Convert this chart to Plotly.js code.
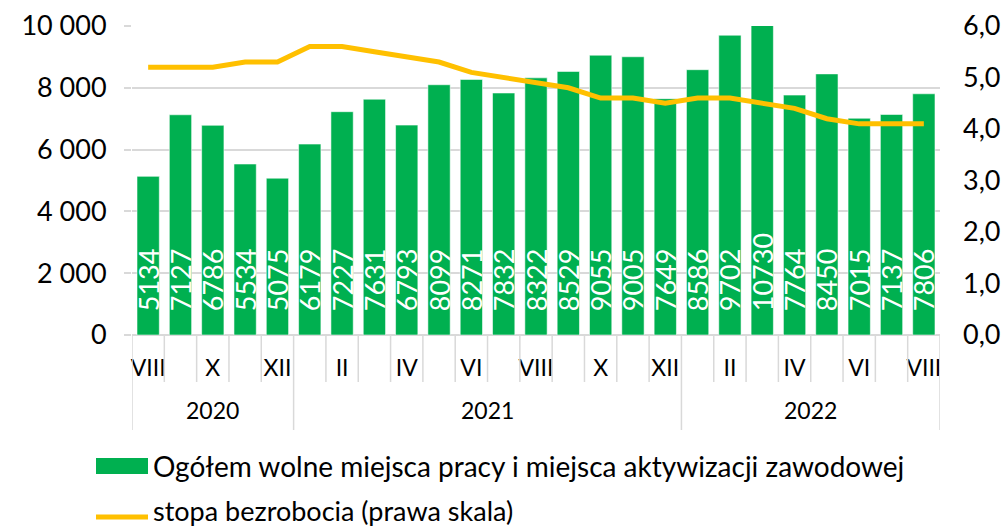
<!DOCTYPE html>
<html>
<head>
<meta charset="utf-8">
<script src="https://cdn.plot.ly/plotly-3.0.1.min.js"></script>
<style>html,body{margin:0;padding:0;background:#fff;}#chart{width:1007px;height:530px;}</style>
</head>
<body>
<div id="chart"></div>
<script>
// Data
const categories = ["VIII 2020","IX 2020","X 2020","XI 2020","XII 2020",
  "I 2021","II 2021","III 2021","IV 2021","V 2021","VI 2021","VII 2021","VIII 2021","IX 2021","X 2021","XI 2021","XII 2021",
  "I 2022","II 2022","III 2022","IV 2022","V 2022","VI 2022","VII 2022","VIII 2022"];
const vacancies = [5134,7127,6786,5534,5075,6179,7227,7631,6793,8099,8271,7832,8322,8529,9055,9005,7649,8586,9702,10730,7764,8450,7015,7137,7806];
const unemploymentRate = [5.2,5.2,5.2,5.3,5.3,5.6,5.6,5.5,5.4,5.3,5.1,5.0,4.9,4.8,4.6,4.6,4.5,4.6,4.6,4.5,4.4,4.2,4.1,4.1,4.1];
const monthTickVals = ["VIII 2020","X 2020","XII 2020","II 2021","IV 2021","VI 2021","VIII 2021","X 2021","XII 2021","II 2022","IV 2022","VI 2022","VIII 2022"];
const monthTickText = ["VIII","X","XII","II","IV","VI","VIII","X","XII","II","IV","VI","VIII"];
const years = ["2020","2021","2022"];
const yearStartIdx = [0,5,17];
const yearEndIdx = [4,16,24];
const barName = "Ogółem wolne miejsca pracy i miejsca aktywizacji zawodowej";
const lineName = "stopa bezrobocia (prawa skala)";

const FONT = "Lato, 'Open Sans', sans-serif";
const GRID = "#d9d9d9";
const BAR_COLOR = "#00B050";
const LINE_COLOR = "#FFC000";

const traces = [
  {
    type: "bar", x: categories, y: vacancies, name: barName,
    marker: {color: BAR_COLOR, line: {color: "rgba(255,255,255,0.55)", width: 1}},
    text: vacancies.map(v => "\u00a0\u00a0\u00a0" + String(v)),
    textposition: "inside", insidetextanchor: "start", textangle: -90, constraintext: "none",
    textfont: {family: FONT, size: 27, color: "#ffffff"},
    hoverinfo: "x+y", showlegend: false
  },
  {
    type: "scatter", mode: "lines", x: categories, y: unemploymentRate, yaxis: "y2",
    name: lineName, line: {color: LINE_COLOR, width: 5}, showlegend: false
  }
];

// layout helpers (paper coords from pixel positions)
const PL = 132, PW = 808, PT = 26, PH = 309;
const px2x = p => (p - PL) / PW;
const px2y = p => (PT + PH - p) / PH;

const shapes = [];
const yearBounds = new Set([yearStartIdx[0], yearStartIdx[1], yearStartIdx[2], categories.length]);
for (let i = 0; i <= categories.length; i++) {
  shapes.push({type: "line", xref: "x", yref: "paper", x0: i - 0.5, x1: i - 0.5, y0: 0,
    y1: yearBounds.has(i) ? px2y(430) : px2y(382), line: {color: GRID, width: 1.5}});
}
// legend glyphs
shapes.push({type: "rect", xref: "paper", yref: "paper", x0: px2x(96), x1: px2x(148), y0: px2y(474), y1: px2y(458),
  fillcolor: BAR_COLOR, line: {width: 0}});
shapes.push({type: "line", xref: "paper", yref: "paper", x0: px2x(96), x1: px2x(148), y0: px2y(517), y1: px2y(517),
  line: {color: LINE_COLOR, width: 5}});

const annotations = years.map((yr, k) => ({
  xref: "x", yref: "paper", x: (yearStartIdx[k] + yearEndIdx[k]) / 2, y: px2y(410),
  text: yr, showarrow: false, yanchor: "middle", font: {family: FONT, size: 23, color: "#000"}
}));
annotations.push({xref: "paper", yref: "paper", x: px2x(151), y: px2y(466), xanchor: "left", yanchor: "middle",
  text: barName, showarrow: false, font: {family: FONT, size: 28, color: "#000"}});
annotations.push({xref: "paper", yref: "paper", x: px2x(151), y: px2y(511), xanchor: "left", yanchor: "middle",
  text: lineName, showarrow: false, font: {family: FONT, size: 27, color: "#000"}});

const layout = {
  width: 1007, height: 530,
  margin: {l: PL, r: 1007 - PL - PW, t: PT, b: 530 - PT - PH, autoexpand: false},
  paper_bgcolor: "#fff", plot_bgcolor: "#fff",
  separators: ", ",
  font: {family: FONT, color: "#000"},
  bargap: 0.31,
  showlegend: false,
  xaxis: {
    type: "category", tickvals: monthTickVals, ticktext: monthTickText, tickangle: 0, automargin: false,
    ticks: "", showgrid: false, showline: false, zeroline: false,
    tickfont: {family: FONT, size: 23, color: "#000"}, ticklabelstandoff: 17,
    range: [-0.5, categories.length - 0.5]
  },
  yaxis: {
    range: [0, 10000], dtick: 2000, tickformat: ",d", automargin: false,
    showgrid: true, gridcolor: GRID, gridwidth: 2, zeroline: true, zerolinecolor: GRID, zerolinewidth: 2,
    ticks: "outside", ticklen: 7, tickcolor: GRID, tickwidth: 2,
    tickfont: {family: FONT, size: 27, color: "#000"}, ticklabelstandoff: 12, showline: false
  },
  yaxis2: {
    overlaying: "y", side: "right", range: [0, 6], dtick: 1, tickformat: ".1f", automargin: false,
    showgrid: false, zeroline: false, showline: false, ticks: "",
    tickfont: {family: FONT, size: 27, color: "#000"}, ticklabelstandoff: 22
  },
  shapes: shapes,
  annotations: annotations
};

Plotly.newPlot("chart", traces, layout, {displayModeBar: false, staticPlot: true});
</script>
</body>
</html>
